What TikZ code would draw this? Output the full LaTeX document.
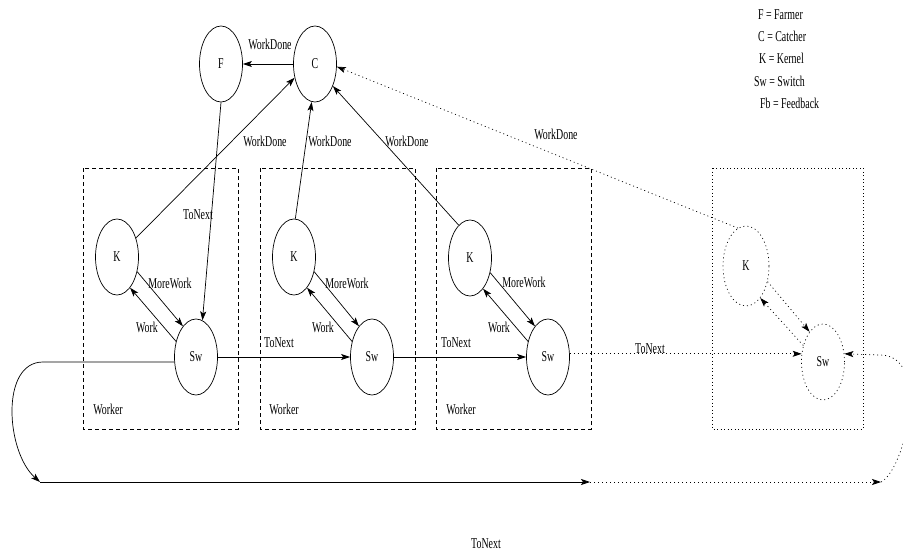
\documentclass[tikz,border=0pt]{standalone}
\usepackage{fontspec}
\setmainfont{Liberation Serif}[FakeStretch=0.66]
\usetikzlibrary{shapes.geometric,arrows.meta}

\tikzset{
  sparsedots/.style={dash pattern=on 1pt off 3pt},
  proc/.style={ellipse, draw, line width=0.7pt, minimum width=43pt, minimum height=76pt, inner sep=0pt},
  ghost/.style={proc, sparsedots},
  lbl/.style={inner sep=0pt, font=\fontsize{15}{16}\selectfont},
  link/.style={line width=0.7pt, -{Stealth[length=9pt,width=6pt,inset=2pt]}},
  dlink/.style={link, sparsedots},
  workerbox/.style={draw, line width=0.7pt, dash pattern=on 4pt off 3pt},
  ghostbox/.style={draw, line width=0.7pt, dash pattern=on 1pt off 2.5pt},
}

\begin{document}
\begin{tikzpicture}[x=1pt, y=-1pt, font=\fontsize{15}{16}\selectfont]
\useasboundingbox (0,0) rectangle (903,554);
\clip (0,0) rectangle (903,554);

% worker frames
\draw[workerbox] (83,168) rectangle (238,429);
\draw[workerbox] (260,168) rectangle (415,429);
\draw[workerbox] (436,168) rectangle (591,429);
\draw[ghostbox]  (712,168) rectangle (863,429);

% farmer and catcher
\node[proc] (F) at (221,64) {F};
\node[proc] (C) at (315,64) {C};

% workers: kernel + switch
\node[proc] (K1) at (117,257) {K};
\node[proc] (S1) at (196,357) {Sw};
\node[proc] (K2) at (294,257) {K};
\node[proc] (S2) at (372,357) {Sw};
\node[proc] (K3) at (470,258) {K};
\node[proc] (S3) at (548,357) {Sw};
\node[ghost, minimum width=46pt, minimum height=80pt] (K4) at (746,266) {K};
\node[ghost] (S4) at (823,362) {Sw};

% frame captions
\node[lbl] at (108,409) {Worker};
\node[lbl] at (284,409) {Worker};
\node[lbl] at (461,409) {Worker};

% legend
\node[lbl, anchor=west] at (758,15) {F = Farmer};
\node[lbl, anchor=west] at (758,36) {C = Catcher};
\node[lbl, anchor=west] at (759,58) {K = Kernel};
\node[lbl, anchor=west] at (754,81) {Sw = Switch};
\node[lbl, anchor=west] at (760,103) {Fb = Feedback};

% results back to the catcher, then to the farmer
\draw[link] (C.west) -- (F.east);
\node[lbl] at (270,44) {WorkDone};
\draw[link] (K1.45) -- (C.-146);
\node[lbl] at (265,141) {WorkDone};
\draw[link] (K2.88) -- (C.-95);
\node[lbl] at (330,141) {WorkDone};
\draw[link] (K3.109) -- (C.-51);
\node[lbl] at (407,141) {WorkDone};
\draw[dlink] (K4.102) -- (C.-7);
\node[lbl] at (556,134) {WorkDone};

% farmer feeds the first switch
\draw[link] (F.south) -- (S1.80);
\node[lbl] at (198,215) {ToNext};

% kernel/switch exchanges
\draw[link] (K1.-36) -- (S1.113);
\draw[link] (S1.142) -- (K1.-67);
\node[lbl] at (170,283) {MoreWork};
\node[lbl] at (147,327) {Work};
\draw[link] (K2.-36) -- (S2.113);
\draw[link] (S2.142) -- (K2.-67);
\node[lbl] at (347,283) {MoreWork};
\node[lbl] at (323,327) {Work};
\draw[link] (K3.-36) -- (S3.113);
\draw[link] (S3.142) -- (K3.-67);
\node[lbl] at (524,282) {MoreWork};
\node[lbl] at (499,327) {Work};
\draw[dlink] (K4.-36) -- (S4.114);
\draw[dlink] (S4.140) -- (K4.-66);

% switch chain
\draw[link] (S1.east) -- (S2.west);
\node[lbl] at (279,343) {ToNext};
\draw[link] (S2.east) -- (S3.west);
\node[lbl] at (456,343) {ToNext};
\draw[dlink] (S3.east |- S4.159) -- (S4.159);
\node[lbl] at (650,349) {ToNext};

% wrap-around path
\coordinate (lc) at (43,362);
\coordinate (b0) at (40,482);
\coordinate (b1) at (590,482);
\coordinate (b2) at (881,482);
\coordinate (rc) at (880,355);
\draw[link] (S1.193) -- (lc) .. controls (0,362) and (6,452) .. (b0);
\draw[link] (b0) -- (b1);
\draw[dlink] (b1) -- (b2);
\draw[dlink] (b2) .. controls (905,470) and (932,355) .. (rc) -- (S4.21);
\node[lbl] at (486,544) {ToNext};
\end{tikzpicture}
\end{document}
